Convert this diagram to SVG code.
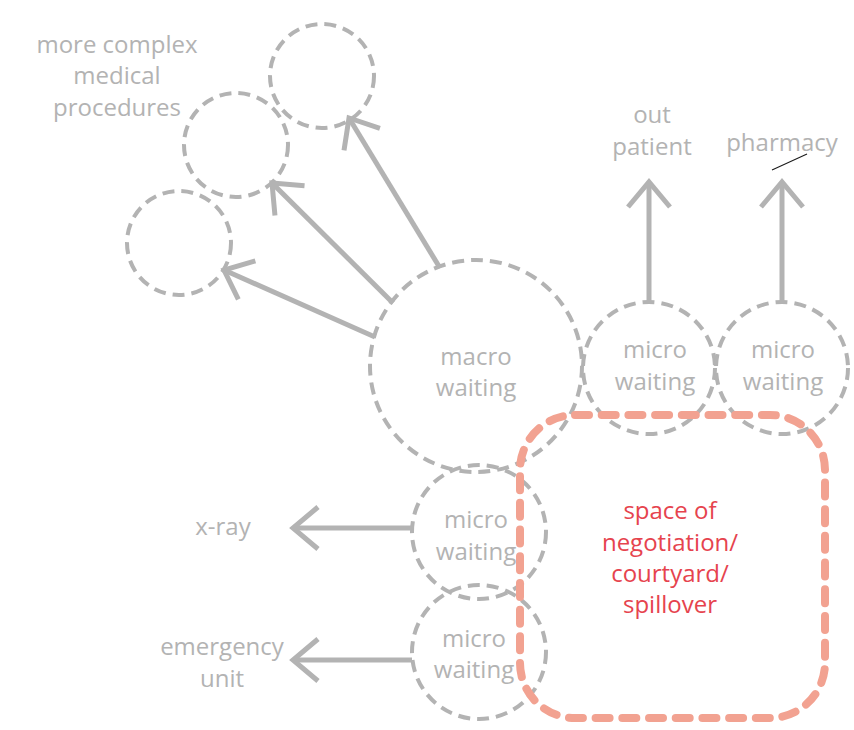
<svg xmlns="http://www.w3.org/2000/svg" width="854" height="730" viewBox="0 0 854 730">
  <style>
    .ring { fill: none; stroke: #b3b3b3; stroke-width: 4; stroke-dasharray: 12 7; }
    .link { fill: none; stroke: #b3b3b3; stroke-width: 5; marker-end: url(#head); }
    .lbl { font-family: "Open Sans", "Liberation Sans", sans-serif; font-size: 24px; fill: #b3b3b3; text-anchor: middle; }
    .zone { fill: none; stroke: #f2a291; stroke-width: 8; stroke-dasharray: 14 12.7; stroke-linecap: round; }
    .zlbl { font-family: "Open Sans", "Liberation Sans", sans-serif; font-size: 24px; fill: #e6434e; text-anchor: middle; }
  </style>
  <defs>
    <marker id="head" markerUnits="userSpaceOnUse" viewBox="-32 -26 38 52" markerWidth="38" markerHeight="52" refX="0" refY="0" orient="auto">
      <path d="M -25 -21 L 0 0 L -25 21" fill="none" stroke="#b3b3b3" stroke-width="5"/>
    </marker>
  </defs>

  <rect width="854" height="730" fill="#ffffff"/>

  <!-- destination labels -->
  <g id="label-procedures">
    <text class="lbl" x="117" y="53">more complex</text>
    <text class="lbl" x="117" y="84">medical</text>
    <text class="lbl" x="117" y="116">procedures</text>
  </g>
  <g id="label-outpatient">
    <text class="lbl" x="652" y="123">out</text>
    <text class="lbl" x="652" y="155">patient</text>
  </g>
  <g id="label-pharmacy">
    <text class="lbl" x="782" y="151">pharmacy</text>
    <line x1="772" y1="170" x2="807" y2="154" stroke="#1a1a1a" stroke-width="1.2"/>
  </g>
  <g id="label-xray">
    <text class="lbl" x="223" y="535">x-ray</text>
  </g>
  <g id="label-emergency">
    <text class="lbl" x="222" y="655">emergency</text>
    <text class="lbl" x="222" y="687">unit</text>
  </g>

  <!-- procedure rooms -->
  <g id="proc-1"><circle class="ring" cx="322" cy="76" r="52"/></g>
  <g id="proc-2"><circle class="ring" cx="236" cy="145" r="52"/></g>
  <g id="proc-3"><circle class="ring" cx="179" cy="243" r="52"/></g>

  <!-- waiting areas -->
  <g id="macro-waiting">
    <circle class="ring" cx="476" cy="366" r="106"/>
    <text class="lbl" x="476" y="365">macro</text>
    <text class="lbl" x="476" y="396">waiting</text>
  </g>
  <g id="micro-outpatient">
    <circle class="ring" cx="649" cy="368" r="66"/>
    <text class="lbl" x="655" y="358">micro</text>
    <text class="lbl" x="655" y="390">waiting</text>
  </g>
  <g id="micro-pharmacy">
    <circle class="ring" cx="782" cy="368" r="66"/>
    <text class="lbl" x="783" y="358">micro</text>
    <text class="lbl" x="783" y="390">waiting</text>
  </g>
  <g id="micro-xray">
    <circle class="ring" cx="479" cy="532" r="67"/>
    <text class="lbl" x="476" y="528">micro</text>
    <text class="lbl" x="476" y="560">waiting</text>
  </g>
  <g id="micro-emergency">
    <circle class="ring" cx="479" cy="652" r="67"/>
    <text class="lbl" x="474" y="647">micro</text>
    <text class="lbl" x="474" y="678">waiting</text>
  </g>

  <!-- shared courtyard -->
  <g id="courtyard">
    <rect class="zone" x="520" y="415" width="305" height="303" rx="55" ry="55"/>
    <text class="zlbl" x="670" y="519">space of</text>
    <text class="zlbl" x="670" y="551">negotiation/</text>
    <text class="zlbl" x="670" y="582">courtyard/</text>
    <text class="zlbl" x="670" y="613">spillover</text>
  </g>

  <!-- connectors -->
  <g id="connectors">
    <line class="link" x1="440" y1="268" x2="349" y2="118"/>
    <line class="link" x1="393" y1="303" x2="272" y2="183"/>
    <line class="link" x1="375" y1="337" x2="224" y2="270"/>
    <line class="link" x1="649" y1="302" x2="649" y2="182"/>
    <line class="link" x1="782" y1="302" x2="782" y2="182"/>
    <line class="link" x1="412" y1="528" x2="293" y2="528"/>
    <line class="link" x1="412" y1="660" x2="293" y2="660"/>
  </g>
</svg>
